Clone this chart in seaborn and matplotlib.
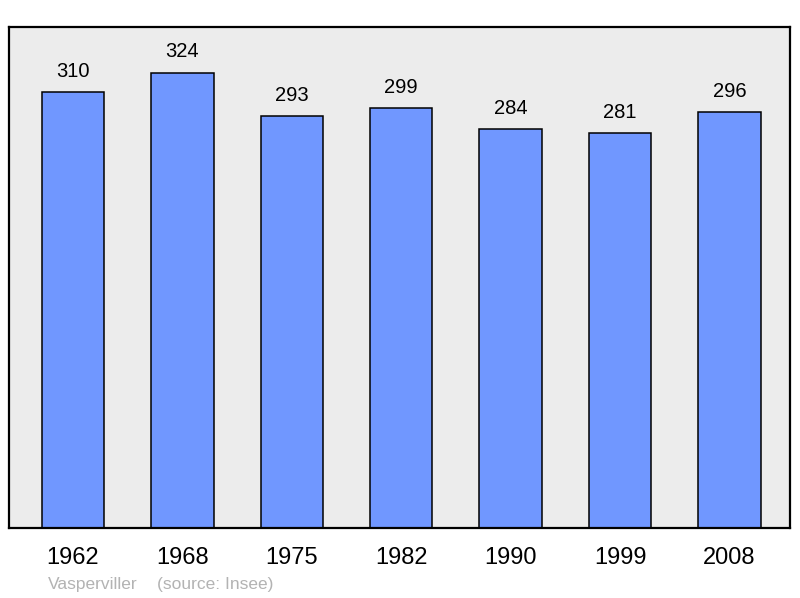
import numpy as np
import seaborn as sns
import matplotlib.pyplot as plt
import pandas as pd

years = ['1962', '1968', '1975', '1982', '1990', '1999', '2008']
population = [310, 324, 293, 299, 284, 281, 296]
place = 'Vasperviller'
source = '(source: Insee)'

df = pd.DataFrame({'year': years, 'population': population})

sns.set_theme(style='white')
plt.rcParams['font.family'] = ['Liberation Sans', 'DejaVu Sans']
plt.rcParams['text.color'] = 'black'

fig = plt.figure(figsize=(8, 5.98), dpi=100)
ax = fig.add_axes([9 / 800, 70 / 598, 781 / 800, 501 / 598])
ax.set_facecolor('#ececec')

sns.barplot(data=df, x='year', y='population', color='#7097ff', saturation=1,
            width=0.57, edgecolor='black', linewidth=1.1, ax=ax)

ax.set_xlim(-0.585, 6.553)
ax.set_ylim(0, max(population) * 1.1)
ax.set_yticks([])
ax.set_xlabel('')
ax.set_ylabel('')
ax.tick_params(axis='x', length=0, labelsize=17, pad=14, colors='black')
for s in ax.spines.values():
    s.set_linewidth(1.6)
    s.set_color('black')

for i, v in enumerate(population):
    ax.annotate(str(v), (i, v), xytext=(0, 8), textcoords='offset points',
                ha='center', va='bottom', fontsize=14.5, color='black')

fig.text(48 / 800, 1 - 584 / 598, place, color='#b3b3b3', fontsize=12.5, va='center')
fig.text(157 / 800, 1 - 584 / 598, source, color='#b3b3b3', fontsize=12.5, va='center')

fig.savefig('out.png', dpi=100)
